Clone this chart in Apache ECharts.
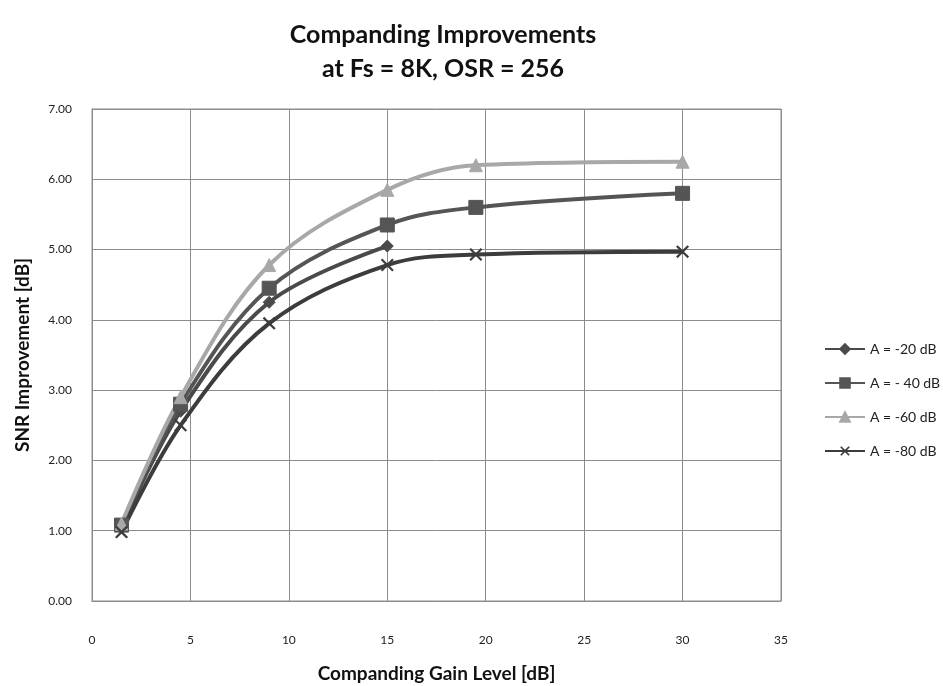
<!DOCTYPE html>
<html>
<head>
<meta charset="utf-8">
<style>
  html, body { margin: 0; padding: 0; background: #fff; }
  #chart { width: 943px; height: 686px; }
</style>
<script src="https://cdn.jsdelivr.net/npm/echarts@6/dist/echarts.min.js"></script>
</head>
<body>
<div id="chart"></div>
<script>
// Companding gain levels [dB] on the x axis
const gainLevels = [1.5, 4.5, 9, 15, 19.5, 30];

// SNR improvement [dB] for each input amplitude
const snrA20 = [1.05, 2.70, 4.25, 5.05];
const snrA40 = [1.08, 2.80, 4.45, 5.35, 5.60, 5.80];
const snrA60 = [1.10, 2.90, 4.78, 5.85, 6.20, 6.25];
const snrA80 = [0.98, 2.50, 3.95, 4.78, 4.93, 4.97];

const seriesNames = ['A = -20 dB', 'A = - 40 dB', 'A = -60 dB', 'A = -80 dB'];

const xTicks = [0, 5, 10, 15, 20, 25, 30, 35];
const yTicks = [0, 1, 2, 3, 4, 5, 6, 7];

const FONT = 'Lato, "Open Sans", sans-serif';
const GRID_COLOR = '#8c8c8c';
const CROSS = 'path://M0,1.2L1.2,0L5,3.8L8.8,0L10,1.2L6.2,5L10,8.8L8.8,10L5,6.2L1.2,10L0,8.8L3.8,5Z';

function pairs(values) {
  return values.map((v, i) => [gainLevels[i], v]);
}

function lineSeries(name, values, color, symbol, size) {
  return {
    name: name,
    type: 'line',
    smooth: 0.35,
    data: pairs(values),
    symbol: symbol,
    symbolSize: size,
    showSymbol: true,
    lineStyle: { color: color, width: 4 },
    itemStyle: { color: color, borderColor: color, borderWidth: symbol === CROSS ? 0 : 1 },
    emphasis: { disabled: true }
  };
}

const chart = echarts.init(document.getElementById('chart'), null, { renderer: 'canvas' });

chart.setOption({
  backgroundColor: '#ffffff',
  animation: false,
  title: {
    text: 'Companding Improvements\nat Fs = 8K, OSR = 256',
    left: 438,
    top: 13,
    textAlign: 'center',
    textStyle: {
      fontFamily: FONT,
      fontWeight: 'bold',
      fontSize: 25,
      lineHeight: 34,
      color: '#111'
    }
  },
  legend: {
    orient: 'vertical',
    left: 819,
    top: 337,
    itemWidth: 40,
    itemHeight: 12,
    itemGap: 20,
    data: seriesNames,
    textStyle: { fontFamily: FONT, fontSize: 14, color: '#222' }
  },
  grid: {
    left: 92,
    top: 109,
    right: 162,
    bottom: 85,
    outerBoundsMode: 'none',
    show: true,
    borderColor: GRID_COLOR,
    borderWidth: 1
  },
  xAxis: {
    type: 'value',
    min: xTicks[0],
    max: xTicks[xTicks.length - 1],
    interval: 5,
    name: 'Companding Gain Level [dB]',
    nameLocation: 'middle',
    nameGap: 63,
    nameTextStyle: { fontFamily: FONT, fontWeight: 'bold', fontSize: 19, color: '#111' },
    axisLine: { show: true, lineStyle: { color: GRID_COLOR, width: 1 } },
    axisTick: { show: false },
    axisLabel: { margin: 33, fontFamily: FONT, fontSize: 12, color: '#222' },
    splitLine: { show: true, lineStyle: { color: GRID_COLOR, width: 1 } }
  },
  yAxis: {
    type: 'value',
    min: yTicks[0],
    max: yTicks[yTicks.length - 1],
    interval: 1,
    name: 'SNR Improvement [dB]',
    nameLocation: 'middle',
    nameGap: 60,
    nameRotate: 90,
    nameTextStyle: { fontFamily: FONT, fontWeight: 'bold', fontSize: 19, color: '#111' },
    axisLine: { show: true, lineStyle: { color: GRID_COLOR, width: 1 } },
    axisTick: { show: false },
    axisLabel: {
      margin: 20,
      fontFamily: FONT,
      fontSize: 12,
      color: '#222',
      formatter: v => v.toFixed(2)
    },
    splitLine: { show: true, lineStyle: { color: GRID_COLOR, width: 1 } }
  },
  series: [
    lineSeries(seriesNames[0], snrA20, '#4a4a4a', 'diamond', 12),
    lineSeries(seriesNames[1], snrA40, '#555555', 'rect', 14),
    lineSeries(seriesNames[2], snrA60, '#a8a8a8', 'triangle', 13),
    lineSeries(seriesNames[3], snrA80, '#3c3c3c', CROSS, 13)
  ]
});
</script>
</body>
</html>
